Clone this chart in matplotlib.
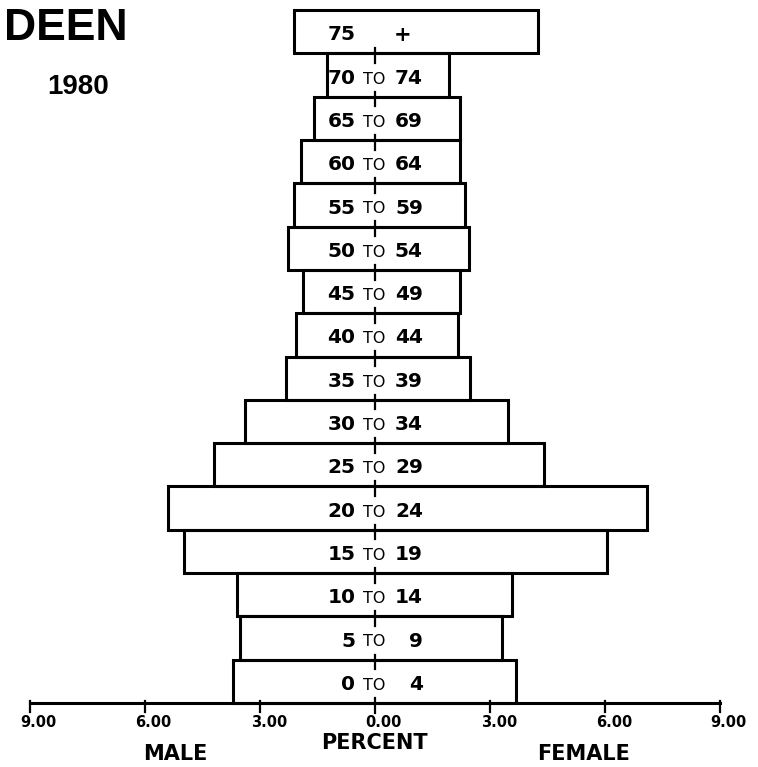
import matplotlib
matplotlib.use("Agg")
import matplotlib.pyplot as plt
import numpy as np

# age groups, bottom to top
age_lo = ["0", "5", "10", "15", "20", "25", "30", "35", "40", "45",
          "50", "55", "60", "65", "70", "75"]
age_hi = ["4", "9", "14", "19", "24", "29", "34", "39", "44", "49",
          "54", "59", "64", "69", "74", "+"]
male = [3.70, 3.52, 3.60, 4.96, 5.38, 4.20, 3.39, 2.30, 2.04, 1.88,
        2.25, 2.09, 1.93, 1.57, 1.23, 2.09]
female = [3.68, 3.32, 3.58, 6.06, 7.10, 4.41, 3.47, 2.48, 2.17, 2.22,
          2.45, 2.35, 2.22, 2.24, 1.93, 4.25]
tick_vals = [-9, -6, -3, 0, 3, 6, 9]
tick_labels = ["9.00", "6.00", "3.00", "0.00", "3.00", "6.00", "9.00"]

fig = plt.figure(figsize=(7.58, 7.67), dpi=100)
ax = fig.add_axes([0, 0, 1, 1])
ax.set_xlim(-9.77, 10.0)
ax.set_ylim(-1.978, 15.735)
ax.axis("off")

y = np.arange(len(age_lo))
male = np.asarray(male)
female = np.asarray(female)

lw = 2.2
ax.barh(y, male + female, left=-male, height=1.0, facecolor="none",
        edgecolor="black", linewidth=lw, zorder=3)

# labels inside bars
lab = dict(color="black", family="DejaVu Sans", zorder=2)
for i in range(len(age_lo)):
    yy = y[i] - 0.07
    ax.text(-0.5, yy, age_lo[i], ha="right", va="center", fontsize=14.5,
            weight="bold", **lab)
    if age_hi[i] == "+":
        ax.text(0.72, yy, "+", ha="center", va="center", fontsize=15,
                weight="bold", **lab)
    else:
        ax.text(0.0, yy - 0.02, "TO", ha="center", va="center", fontsize=11.5,
                weight="normal", **lab)
        ax.text(1.26, yy, age_hi[i], ha="right", va="center", fontsize=14.5,
                weight="bold", **lab)

# center ticks at bar boundaries
for b in np.arange(len(age_lo) + 1) - 0.5:
    if b > len(age_lo) - 1:
        continue
    ax.plot([0, 0], [b + 0.12, b - 0.22], color="black", lw=1.6, zorder=4)

# percent axis
ax.plot([tick_vals[0], tick_vals[-1]], [-0.5, -0.5], color="black", lw=lw, zorder=4)
for t, s in zip(tick_vals, tick_labels):
    if t != 0:
        ax.plot([t, t], [-0.45, -0.7], color="black", lw=1.6, zorder=4)
    ax.text(t + 0.24, -0.94, s, ha="center", va="center", fontsize=10.5,
            family="DejaVu Sans", weight="bold")

ax.text(0.0, -1.435, "PERCENT", ha="center", va="center", fontsize=15,
        family="DejaVu Sans", weight="bold")
ax.text(-5.2, -1.68, "MALE", ha="center", va="center", fontsize=15,
        family="DejaVu Sans", weight="bold")
ax.text(5.45, -1.68, "FEMALE", ha="center", va="center", fontsize=15,
        family="DejaVu Sans", weight="bold")

fig.text(128 / 758, 1 - 29 / 767, "DEEN", ha="right", va="center", fontsize=32,
         family="Liberation Sans", weight="bold")
fig.text(78 / 758, 1 - 87 / 767, "1980", ha="center", va="center", fontsize=20,
         family="Liberation Sans", weight="bold")

fig.savefig("out.png", dpi=100)
